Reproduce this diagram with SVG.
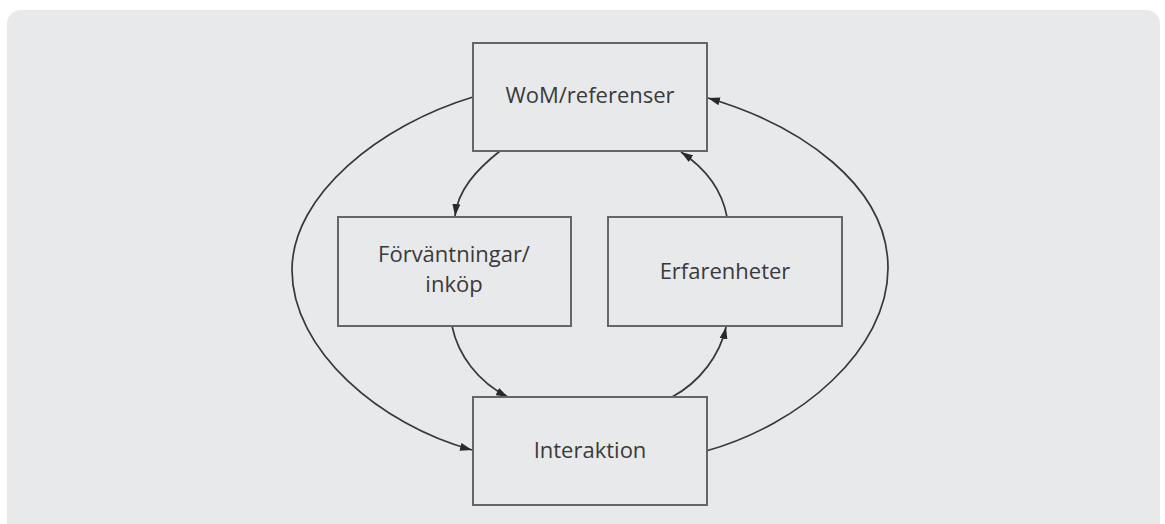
<svg xmlns="http://www.w3.org/2000/svg" width="1165" height="524" viewBox="0 0 1165 524">
  <style>
    .node rect { fill: #e8e9eb; stroke: #666666; stroke-width: 2; }
    .node text { font-family: "Open Sans", "Liberation Sans", sans-serif; font-size: 22px; fill: #3a3a3a; text-anchor: middle; }
    .conn path { fill: none; stroke: #383838; stroke-width: 1.7; marker-end: url(#arr); }
  </style>
  <defs>
    <marker id="arr" viewBox="0 0 12 8" refX="12" refY="4" markerWidth="12" markerHeight="8" markerUnits="userSpaceOnUse" orient="auto">
      <path d="M0,0 L12,4 L0,8 Z" fill="#2a2a2a"/>
    </marker>
  </defs>
  <rect width="1165" height="524" fill="#ffffff"/>
  <rect x="7" y="10" width="1153" height="540" rx="14" fill="#e8e9eb"/>

  <g id="connectors" class="conn">
    <path d="M473,97 C380,125 292,195 292,270 C292,350 380,425 472,450"/>
    <path d="M706,451 C800,425 888,350 888,268 C888,185 800,125 708,98"/>
    <path d="M500,151 C476,170 458,190 455,216"/>
    <path d="M452,326 C458,355 478,382 508,397"/>
    <path d="M672,397 C700,382 720,355 726,327"/>
    <path d="M727,217 C722,190 705,168 681,152"/>
  </g>

  <g id="node-wom" class="node">
    <rect x="473" y="43" width="234" height="108"/>
    <text x="590" y="103">WoM/referenser</text>
  </g>
  <g id="node-forvantningar" class="node">
    <rect x="338" y="217" width="233" height="109"/>
    <text x="454" y="262">Förväntningar/</text>
    <text x="454" y="292">inköp</text>
  </g>
  <g id="node-erfarenheter" class="node">
    <rect x="608" y="217" width="234" height="109"/>
    <text x="725" y="279">Erfarenheter</text>
  </g>
  <g id="node-interaktion" class="node">
    <rect x="473" y="397" width="234" height="108"/>
    <text x="590" y="458">Interaktion</text>
  </g>
</svg>
